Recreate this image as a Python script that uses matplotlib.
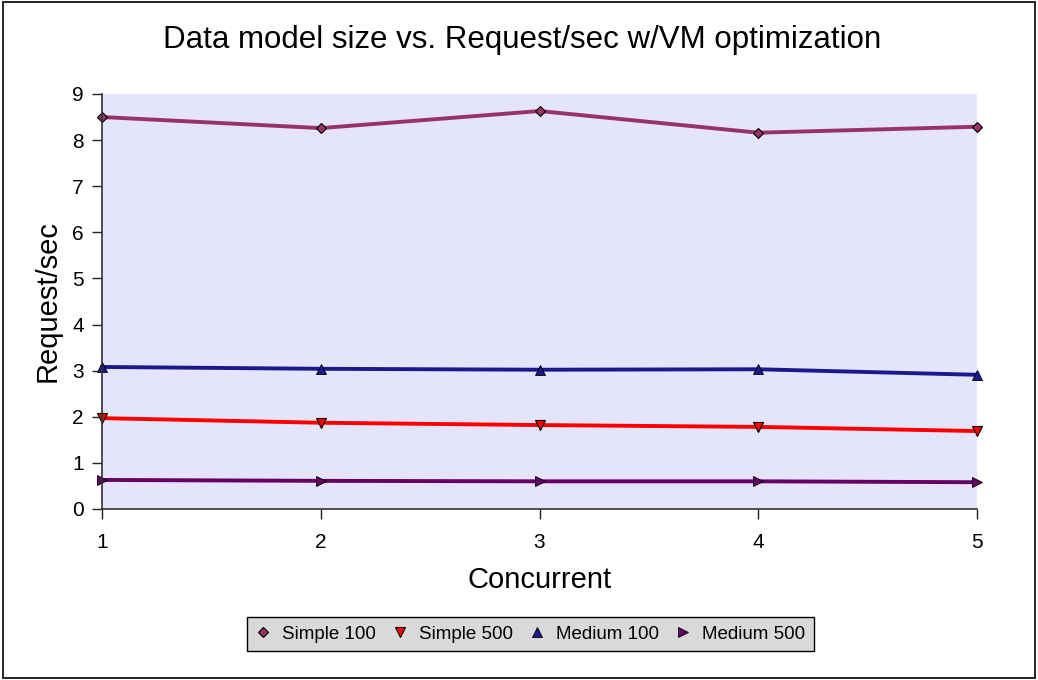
import matplotlib
matplotlib.use("Agg")
import matplotlib.pyplot as plt
from matplotlib.patches import Rectangle

plt.rcParams['font.family'] = ['Liberation Sans', 'DejaVu Sans']

concurrent = [1, 2, 3, 4, 5]
simple_100 = [8.50, 8.26, 8.63, 8.16, 8.29]
simple_500 = [1.97, 1.87, 1.82, 1.78, 1.69]
medium_100 = [3.08, 3.04, 3.02, 3.03, 2.91]
medium_500 = [0.63, 0.61, 0.60, 0.60, 0.58]

fig = plt.figure(figsize=(10.38, 6.8), dpi=100)
fig.patches.append(Rectangle((0.003, 0.003), 0.994, 0.994, transform=fig.transFigure,
                             fill=False, edgecolor='black', linewidth=1.2))
ax = fig.add_axes([0.0983, 0.2515, 0.8430, 0.6103])
ax.set_facecolor('#E4E4FA')

l1, = ax.plot(concurrent, simple_100, color='#993366', lw=2.8, marker='D', ms=5.5,
              mfc='#993366', mec='black', mew=0.8, clip_on=False)
l2, = ax.plot(concurrent, simple_500, color='#FF0000', lw=2.8, marker='v', ms=7,
              mfc='#FF0000', mec='black', mew=0.8, clip_on=False)
l3, = ax.plot(concurrent, medium_100, color='#1A1A8C', lw=2.8, marker='^', ms=7,
              mfc='#1A1A8C', mec='black', mew=0.6, clip_on=False)
l4, = ax.plot(concurrent, medium_500, color='#660066', lw=2.8, marker='>', ms=7,
              mfc='#660066', mec='black', mew=0.6, clip_on=False)

ax.set_xlim(1, 5)
ax.set_ylim(0, 9)
ax.set_xticks(concurrent)
ax.set_yticks(range(0, 10))
ax.tick_params(labelsize=15, direction='out', length=7, width=1, color='#222222')
ax.tick_params(axis='x', pad=10)
ax.tick_params(axis='y', pad=6)
for s in ['top', 'right']:
    ax.spines[s].set_visible(False)
for s in ['left', 'bottom']:
    ax.spines[s].set_color('#333333')
    ax.spines[s].set_linewidth(1.2)

ax.set_xlabel('Concurrent', fontsize=21, va='center')
ax.xaxis.set_label_coords(0.5, -0.171)
ax.set_ylabel('Request/sec', fontsize=21, va='center')
ax.yaxis.set_label_coords(-0.062, 0.5)
fig.text(0.503, 0.941, 'Data model size vs. Request/sec w/VM optimization',
         fontsize=22.5, ha='center', va='center')

leg = fig.legend(handles=[l1, l2, l3, l4], labels=['Simple 100', 'Simple 500', 'Medium 100', 'Medium 500'],
                 loc='center', bbox_to_anchor=(0.511, 0.067), ncol=4, fontsize=13.5,
                 frameon=True, fancybox=False, edgecolor='black', facecolor='#D9D9D9',
                 handlelength=0.8, handletextpad=0.6, columnspacing=0.9, borderpad=0.45)
for h in leg.legend_handles:
    h.set_linestyle('none')
leg.get_frame().set_linewidth(1)
leg.get_frame().set_alpha(1)

fig.savefig('out.png', dpi=100)
